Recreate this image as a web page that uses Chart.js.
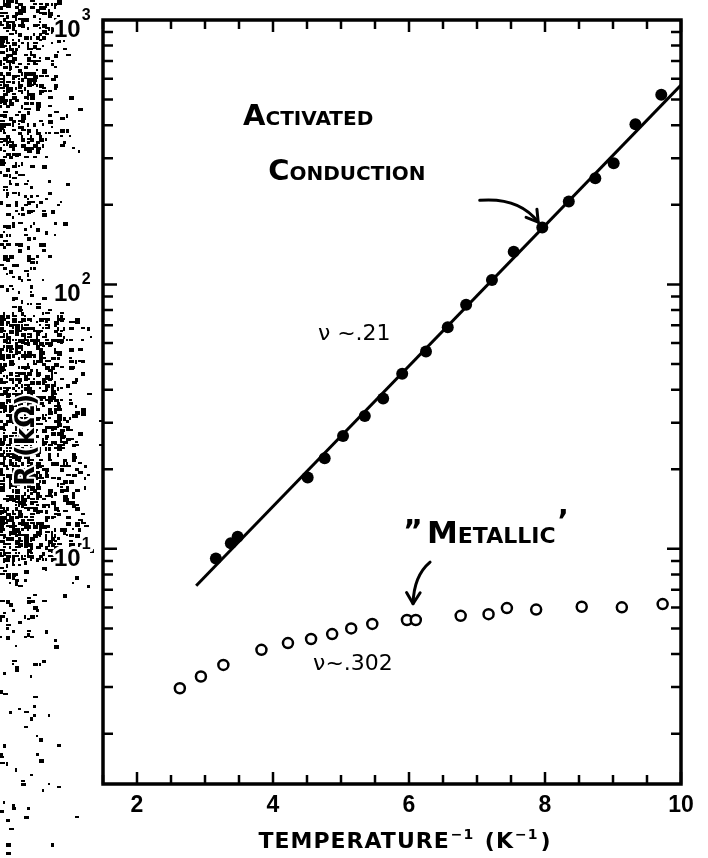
<!DOCTYPE html>
<html>
<head>
<meta charset="utf-8">
<script src="https://cdn.jsdelivr.net/npm/chart.js@4.4.1/dist/chart.umd.min.js"></script>
<style>
  html, body { margin: 0; padding: 0; background: #fff; }
  #wrap { width: 708px; height: 858px; }
</style>
</head>
<body>
<div id="wrap"><canvas id="resistance" width="708" height="858"></canvas></div>
<script>
// inverse temperature (1/K) vs resistance (kOhm)
const activatedX = [3.16, 3.38, 3.48, 4.51, 4.76, 5.03, 5.35, 5.62, 5.90, 6.25, 6.57, 6.84, 7.22, 7.54, 7.96, 8.35, 8.74, 9.01, 9.33, 9.71];
const activatedY = [9.2, 10.5, 11.1, 18.6, 22.0, 26.7, 31.8, 37.0, 45.9, 55.8, 68.9, 83.8, 104, 133, 164, 206, 252, 287, 403, 522];
const metallicX = [2.63, 2.94, 3.27, 3.83, 4.22, 4.56, 4.87, 5.15, 5.46, 5.97, 6.10, 6.76, 7.17, 7.44, 7.87, 8.54, 9.13, 9.73];
const metallicY = [2.97, 3.29, 3.64, 4.15, 4.40, 4.56, 4.76, 5.00, 5.20, 5.38, 5.38, 5.58, 5.66, 5.97, 5.89, 6.04, 6.01, 6.18];
// straight-line fit through the activated branch
const fitX = [2.87, 10.0];
const fitY = [7.25, 567];

const xTickLabels = [2, 4, 6, 8, 10];
const yTickExponents = [1, 2, 3];

const INK = '#000';

// tiny seeded generator so the scan grain is the same every load
function mulberry32(a) {
  return function() {
    a |= 0; a = a + 0x6D2B79F5 | 0;
    let t = Math.imul(a ^ a >>> 15, 1 | a);
    t = t + Math.imul(t ^ t >>> 7, 61 | t) ^ t;
    return ((t ^ t >>> 14) >>> 0) / 4294967296;
  };
}

// dark smudge down the left margin, heaviest around the axis title
function grainDensity(x, y) {
  const fall = (edge, k) => Math.pow(Math.max(0, 1 - x / edge), k);
  if (y < 150) return 0.55 * fall(75, 1.3);
  if (y < 310) return 0.28 * fall(80, 1.8);
  if (y < 560) return 0.60 * fall(92, 0.8);
  if (y < 640) return 0.16 * fall(55, 1);
  return 0.05 * fall(65, 1);
}

const scanGrain = {
  id: 'scanGrain',
  beforeDraw(chart) {
    const ctx = chart.ctx;
    const rand = mulberry32(20240611);
    ctx.save();
    ctx.fillStyle = '#fff';
    ctx.fillRect(0, 0, chart.width, chart.height);
    ctx.fillStyle = INK;
    for (let y = 0; y < chart.height; y += 3) {
      for (let x = 0; x < 100; x += 3) {
        const d = grainDensity(x, y) + 0.004;
        if (rand() < d) {
          const w = 2 + Math.floor(rand() * 4);
          const h = 2 + Math.floor(rand() * 3);
          ctx.fillRect(x, y, w, h);
        }
      }
    }
    ctx.restore();
  }
};

function drawSup(ctx, base, sup, x, y, baseFont, supFont, rise, halo) {
  // draws base text followed by a raised exponent, returns end x
  ctx.font = baseFont;
  const w = ctx.measureText(base).width;
  if (halo) ctx.strokeText(base, x, y);
  ctx.fillText(base, x, y);
  ctx.font = supFont;
  if (halo) ctx.strokeText(sup, x + w + 1, y - rise);
  ctx.fillText(sup, x + w + 1, y - rise);
  return x + w + 1 + ctx.measureText(sup).width;
}

const frameAndLabels = {
  id: 'frameAndLabels',
  afterDatasetsDraw(chart) {
    const ctx = chart.ctx;
    const a = chart.chartArea;
    const xs = chart.scales.x, ys = chart.scales.y;
    ctx.save();
    ctx.strokeStyle = INK;
    ctx.lineCap = 'butt';

    // inward ticks, every 0.5 along x, log minors along y
    ctx.lineWidth = 2.5;
    for (let v = xs.min; v <= xs.max + 1e-9; v += 0.5) {
      const px = xs.getPixelForValue(v);
      const len = Math.abs(v / 2 - Math.round(v / 2)) < 1e-6 ? 12 : 9;
      ctx.beginPath();
      ctx.moveTo(px, a.bottom); ctx.lineTo(px, a.bottom - len);
      ctx.moveTo(px, a.top); ctx.lineTo(px, a.top + len);
      ctx.stroke();
    }
    for (let e = 0; e <= 2; e++) {
      for (let m = 1; m <= 9; m++) {
        const v = m * Math.pow(10, e);
        if (v < ys.min || v > ys.max) continue;
        const py = ys.getPixelForValue(v);
        const len = m === 1 ? 14 : 10;
        ctx.beginPath();
        ctx.moveTo(a.left, py); ctx.lineTo(a.left + len, py);
        ctx.moveTo(a.right, py); ctx.lineTo(a.right - len, py);
        ctx.stroke();
      }
    }

    ctx.lineWidth = 3.5;
    ctx.strokeRect(a.left, a.top, a.right - a.left, a.bottom - a.top);

    // tick labels
    ctx.fillStyle = INK;
    ctx.font = 'bold 23px "Liberation Sans", Arial, sans-serif';
    ctx.textAlign = 'center';
    ctx.textBaseline = 'alphabetic';
    xTickLabels.forEach(v => {
      ctx.fillText(String(v), xs.getPixelForValue(v), a.bottom + 28);
    });

    ctx.textAlign = 'left';
    ctx.strokeStyle = '#fff';
    ctx.lineWidth = 6;
    ctx.lineJoin = 'round';
    yTickExponents.forEach(p => {
      const py = ys.getPixelForValue(Math.pow(10, p));
      drawSup(ctx, '10', String(p), a.left - 49, py + 17,
        'bold 24px "Liberation Sans", Arial, sans-serif',
        'bold 16px "Liberation Sans", Arial, sans-serif', 17, true);
    });

    // x axis title with exponents
    const tFont = 'bold 22px "DejaVu Sans", sans-serif';
    const sFont = 'bold 14px "DejaVu Sans", sans-serif';
    ctx.letterSpacing = '1px';
    ctx.font = tFont;
    const w1 = ctx.measureText('TEMPERATURE').width;
    const w2 = ctx.measureText(' (K').width;
    const w3 = ctx.measureText(')').width;
    ctx.font = sFont;
    const ws = ctx.measureText('−1').width;
    const total = w1 + w2 + w3 + 2 * (ws + 2);
    let tx = (a.left + a.right) / 2 + 12 - total / 2;
    const ty = a.bottom + 64;
    tx = drawSup(ctx, 'TEMPERATURE', '−1', tx, ty, tFont, sFont, 9) + 2;
    tx = drawSup(ctx, ' (K', '−1', tx, ty, tFont, sFont, 9) + 2;
    ctx.font = tFont;
    ctx.fillText(')', tx, ty);
    ctx.letterSpacing = '0px';

    // y axis title, half lost in the dark margin
    ctx.save();
    ctx.translate(34, 440);
    ctx.rotate(-Math.PI / 2);
    ctx.textAlign = 'center';
    ctx.font = 'bold 26px "DejaVu Sans", sans-serif';
    ctx.lineWidth = 4;
    ctx.strokeStyle = '#fff';
    ctx.strokeText('R (kΩ)', 0, 0);
    ctx.fillText('R (kΩ)', 0, 0);
    ctx.restore();

    // hand-lettered notes, anchored in data coordinates
    const at = (x, y) => [xs.getPixelForValue(x), ys.getPixelForValue(y)];
    ctx.textAlign = 'left';
    ctx.fontVariantCaps = 'small-caps';
    ctx.font = 'small-caps bold 29px "DejaVu Sans", sans-serif';
    let p = at(3.56, 400);
    ctx.fillText('Activated', p[0], p[1]);
    p = at(3.93, 248);
    ctx.fillText('Conduction', p[0], p[1]);
    p = at(5.97, 10.5);
    ctx.font = 'bold 30px "DejaVu Sans", sans-serif';
    ctx.fillText('\u201D', p[0] - 4, p[1] - 2);
    ctx.font = 'small-caps bold 31px "DejaVu Sans", sans-serif';
    ctx.fillText('Metallic', p[0] + 20, p[1]);
    const mw = ctx.measureText('Metallic').width;
    ctx.font = 'bold 30px "DejaVu Sans", sans-serif';
    ctx.fillText('\u2019', p[0] + 22 + mw, p[1] - 12);
    ctx.fontVariantCaps = 'normal';

    ctx.font = '22px "DejaVu Sans", sans-serif';
    p = at(4.66, 61.5);
    ctx.fillText('\u03BD ~.21', p[0], p[1]);
    p = at(4.59, 3.47);
    ctx.fillText('\u03BD~.302', p[0], p[1]);

    // curved arrows
    ctx.strokeStyle = INK;
    ctx.lineWidth = 3;
    ctx.lineCap = 'round';
    ctx.lineJoin = 'round';
    const arrow = (s, c, e, head) => {
      ctx.beginPath();
      ctx.moveTo(s[0], s[1]);
      ctx.quadraticCurveTo(c[0], c[1], e[0], e[1]);
      ctx.stroke();
      const ang = Math.atan2(e[1] - c[1], e[0] - c[0]);
      ctx.beginPath();
      ctx.moveTo(e[0] - head * Math.cos(ang - 0.55), e[1] - head * Math.sin(ang - 0.55));
      ctx.lineTo(e[0], e[1]);
      ctx.lineTo(e[0] - head * Math.cos(ang + 0.55), e[1] - head * Math.sin(ang + 0.55));
      ctx.stroke();
    };
    arrow(at(7.04, 208), at(7.62, 214), at(7.9, 172), 13);
    arrow(at(6.31, 8.9), at(6.07, 7.9), at(6.06, 6.2), 13);

    ctx.restore();
  }
};

new Chart(document.getElementById('resistance'), {
  type: 'scatter',
  data: {
    datasets: [{
      label: 'fit',
      data: fitX.map((x, i) => ({ x: x, y: fitY[i] })),
      showLine: true,
      borderColor: INK,
      borderWidth: 3,
      pointRadius: 0
    }, {
      label: 'activated',
      data: activatedX.map((x, i) => ({ x: x, y: activatedY[i] })),
      pointRadius: 6,
      backgroundColor: INK,
      borderWidth: 0
    }, {
      label: 'metallic',
      data: metallicX.map((x, i) => ({ x: x, y: metallicY[i] })),
      pointRadius: 5,
      pointBorderWidth: 2.5,
      backgroundColor: '#fff',
      borderColor: INK
    }]
  },
  options: {
    responsive: false,
    devicePixelRatio: 1,
    animation: false,
    layout: { padding: { left: 103, top: 20, right: 27, bottom: 74 } },
    scales: {
      x: { type: 'linear', min: 1.5, max: 10, display: false },
      y: { type: 'logarithmic', min: 1.29, max: 1000, display: false }
    },
    plugins: {
      legend: { display: false },
      tooltip: { enabled: false }
    }
  },
  plugins: [scanGrain, frameAndLabels]
});
</script>
</body>
</html>
